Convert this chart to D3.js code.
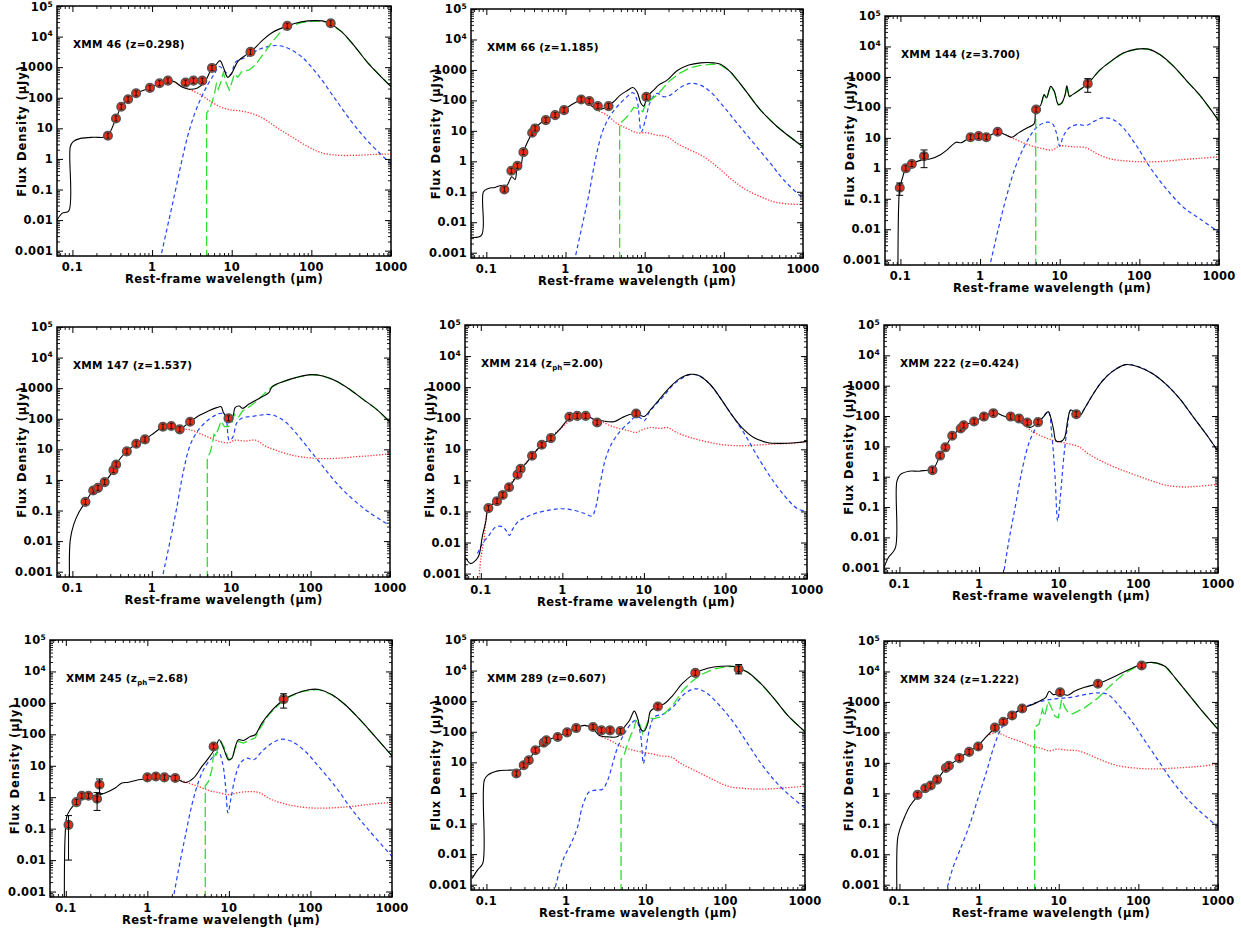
<!DOCTYPE html>
<html>
<head>
<meta charset="utf-8">
<script src="https://cdn.jsdelivr.net/npm/d3@7"></script>
<style>
  body { margin: 0; background: #fff; }
  svg { display: block; font-family: "DejaVu Sans", sans-serif; font-weight: bold; }
</style>
</head>
<body>
<svg id="chart" width="1241" height="932"></svg>
<script>
// Axis ticks
const xTickValues = [0.1, 1, 10, 100, 1000];
const xTickLabels = ['0.1', '1', '10', '100', '1000'];
const yTickValues = [1e-3, 1e-2, 0.1, 1, 10, 100, 1000, 1e4, 1e5];
const yTickLabels = ['0.001', '0.01', '0.1', '1', '10', '100', '1000', '10^4', '10^5'];
const xDomain = [0.064, 1000];
const yDomain = [6.7e-4, 1e5];

// Source names and redshifts
const sourceNames = ['46', '66', '144', '147', '214', '222', '245', '289', '324'];
const redshifts = ['0.298', '1.185', '3.700', '1.537', '2.00', '0.424', '2.68', '0.607', '1.222'];
const photoZ = [false, false, false, false, true, false, true, false, false];

// ---- XMM 46 ----
const obs46 = [[0.279,5.75],[0.352,21],[0.41,51],[0.50,89],[0.63,140],[0.94,210],[1.24,297],[1.58,363],[2.63,313],[3.31,363],[4.27,363],[5.65,944],[17.2,3160],[49.8,22400],[175,27300]];
const tot46 = [[0.064,0.01],[0.074,0.0166],[0.09,0.02],[0.094,2.5],[0.102,3.7],[0.126,4.7],[0.186,5.1],[0.248,5.1],[0.279,5.75],[0.352,21],[0.41,51],[0.50,89],[0.63,140],[0.94,210],[1.24,297],[1.58,363],[1.89,338],[2.41,219],[2.92,190],[3.72,209],[4.61,338],[5.65,930],[6.3,1180],[7.13,1640],[7.94,920],[8.9,467],[10,630],[11.9,1520],[14.5,2330],[17.5,3230],[23.4,6860],[31.3,12900],[49.8,22400],[74.8,30200],[110,33300],[155,30200],[239,14600],[352,4710],[518,1340],[1000,231]];
const star46 = [[1.24,297],[1.58,363],[1.89,330],[2.30,245],[3.07,180],[4.10,124],[5.48,74.8],[7.34,49],[9.8,40],[13.1,37],[19.3,28.8],[25.8,20],[38,10],[56,5.4],[91,2.5],[134,1.6],[217,1.32],[387,1.32],[631,1.41],[1000,1.45]];
const agn46 = [[1.26,5e-4],[1.56,0.0061],[1.89,0.058],[2.30,0.63],[2.79,5.4],[3.38,27.5],[4.10,95],[4.98,263],[6.05,603],[7.0,1050],[8.24,716],[9.6,557],[11.3,1520],[15.1,2100],[21.3,3660],[28.4,4710],[38,5080],[50.8,4170],[74.8,2220],[121,557],[197,95],[319,16.6],[518,3.67],[1000,0.68]];
const sb46 = [[4.84,5e-4],[4.84,31],[5.38,49],[6.05,124],[6.41,282],[6.79,190],[7.34,338],[7.85,661],[8.57,295],[9.33,180],[10.1,338],[10.8,603],[11.9,468],[13.4,716],[16.7,813],[20.3,1280],[24.5,2510],[31.3,6050],[39.8,12900],[50.8,20200],[74.8,28700],[110,32600],[155,30000],[239,14600],[352,4710],[518,1340],[1000,231]];

// ---- XMM 66 ----
const obs66 = [[0.169,0.119],[0.207,0.49],[0.247,0.71],[0.294,2.0],[0.379,8.65],[0.413,12],[0.564,22.5],[0.74,32.8],[0.96,47.9],[1.58,107],[2.0,94.6],[2.56,64.9],[3.5,64.9],[10.5,131]];
const tot66 = [[0.064,0.0032],[0.087,0.0038],[0.092,0.1],[0.106,0.129],[0.129,0.139],[0.149,0.158],[0.181,0.16],[0.209,0.31],[0.231,0.254],[0.247,0.7],[0.267,0.54],[0.294,2.0],[0.357,6.4],[0.413,12],[0.528,21.4],[0.74,34],[0.96,50],[1.39,90],[1.69,107],[2.15,65],[2.62,50],[3.33,61.7],[4.05,90],[4.92,149],[5.97,207],[7.11,266],[8.0,191],[9.0,79],[9.7,65],[10.9,138],[13.0,217],[15.0,316],[19.2,462],[25.6,937],[36,1440],[50.7,1710],[74.6,1710],[90.8,1550],[121,869],[179,247],[291,47.9],[473,13.6],[1000,3.0]];
const star66 = [[2.15,65],[2.5,48],[3.33,32.8],[4.47,17.5],[5.97,12],[8.0,8.65],[10.7,8.65],[14.3,7.2],[19.2,6.4],[25.6,3.85],[37.8,2.34],[55.8,1.41],[82.4,0.66],[121,0.275],[179,0.129],[291,0.069],[473,0.044],[1000,0.038]];
const agn66 = [[1.29,5e-4],[1.61,0.0071],[1.95,0.069],[2.38,1.1],[2.88,8.2],[3.5,25.5],[4.47,61.7],[5.97,131],[7.11,178],[8.0,102],[9.08,9.3],[10.2,22.5],[11.8,90],[14.3,170],[17.4,132],[21.1,149],[28.3,266],[37.8,360],[50.7,316],[67.8,191],[100,61.7],[148,17.5],[240,3.85],[389,0.85],[574,0.24],[1000,0.06]];
const sb66 = [[4.83,5e-4],[4.83,16.6],[5.42,22.5],[6.27,32.8],[7.26,58.6],[8.4,54.3],[9.5,42.3],[10.2,76],[11.8,102],[14.3,149],[17.4,266],[21.1,462],[28.3,805],[37.8,1175],[50.7,1400],[74.6,1550],[90.8,1450],[121,869],[179,247],[291,47.9],[473,13.6],[1000,3.0]];

// ---- XMM 144 ----
const obs144 = [[0.098,0.23],[0.117,1.0],[0.139,1.38],[0.198,2.5],[0.76,10.5],[0.96,11.4],[1.2,10.5],[1.66,15.8],[5.05,85],[22.5,601]];
const err144 = [[0.098,0.13,0.33],[0.198,1.05,4.0],[22.5,313,875]];
const tot144 = [[0.093,5e-4],[0.095,0.059],[0.098,0.23],[0.105,0.44],[0.117,1.0],[0.139,1.38],[0.181,1.86],[0.24,2.06],[0.322,2.86],[0.392,4.17],[0.5,7.2],[0.58,6.9],[0.76,10.5],[0.96,11.4],[1.2,10.7],[1.66,15.8],[2.06,12.9],[2.51,10.5],[3.04,14.6],[3.92,21.4],[4.76,28.8],[4.95,74.6],[5.05,85],[5.73,115],[6.38,263],[6.84,204],[7.69,491],[8.55,339],[9.6,124],[10.6,140],[11.7,263],[12.3,516],[13.2,231],[14.5,263],[22.5,601],[31.6,1640],[46.7,3660],[62.7,6050],[92.5,8180],[130,8180],[183,5330],[270,2220],[398,716],[590,231],[1000,35.5]];
const star144 = [[2.06,12.9],[2.51,10],[3.35,7.2],[4.5,5.4],[6.0,4.5],[8.07,4.0],[10,5.4],[14.5,5.1],[21.4,4.7],[28.7,3.1],[42.4,2.06],[69,1.74],[112,1.64],[183,1.67],[362,1.95],[590,2.14],[1000,2.4]];
const agn144 = [[1.30,5e-4],[1.69,0.01],[2.16,0.126],[2.76,1.05],[3.52,4.7],[4.5,14.6],[5.46,25.4],[6.97,32.7],[8.07,29.5],[9.08,14.6],[10,5.4],[11.1,11.4],[13.2,21.4],[16.8,27.5],[21.4,25.4],[27.3,35.5],[34.8,45.2],[46.7,39.8],[62.7,21.4],[92.5,5.4],[137,1.05],[222,0.2],[362,0.051],[590,0.021],[1000,0.008]];
const sb144 = [[5.0,5e-4],[5.0,70],[5.05,85],[5.73,110],[6.38,255],[6.84,198],[7.69,480],[8.55,330],[9.6,120],[10.6,135],[11.7,255],[12.3,505],[13.2,225],[14.5,258],[22.5,590],[31.6,1640],[46.7,3660],[62.7,6050],[92.5,8180],[130,8180],[183,5330],[270,2220],[398,716],[590,231],[1000,35.5]];

// ---- XMM 147 ----
const obs147 = [[0.146,0.192],[0.183,0.45],[0.21,0.55],[0.255,0.85],[0.329,2.09],[0.356,3.2],[0.485,8.55],[0.638,15.2],[0.82,21.1],[1.38,55],[1.76,57.8],[2.25,45],[3.04,80],[9.25,103]];
const tot147 = [[0.092,5e-4],[0.094,0.011],[0.104,0.035],[0.12,0.084],[0.146,0.19],[0.183,0.45],[0.21,0.55],[0.255,0.85],[0.329,2.09],[0.356,3.2],[0.407,5.3],[0.485,8.55],[0.638,15.2],[0.82,21.1],[1.08,35],[1.38,55],[1.76,60],[2.25,47],[2.87,71],[3.85,123],[5.15,179],[6.58,231],[7.46,248],[8.0,158],[9.25,103],[10.5,123],[11.2,231],[12.6,261],[13.9,219],[16.6,296],[22.2,454],[29.8,714],[32.9,1120],[44,1600],[65,2210],[101,2770],[142,2510],[210,1720],[310,918],[458,432],[678,203],[1000,78]];
const star147 = [[2.25,47],[3.16,42.7],[4.24,30.9],[5.68,22.4],[7.6,17.4],[9.25,16.4],[11.2,20],[15.1,18.6],[20.2,20],[27,12.8],[36.2,9.46],[53.6,6.8],[79,5.6],[129,5.0],[210,5.05],[377,5.75],[614,6.3],[1000,7.2]];
const agn147 = [[1.33,5e-4],[1.68,0.0087],[2.04,0.107],[2.48,1.71],[3.01,12.8],[3.66,35],[4.67,74],[6.27,129],[7.6,150],[8.55,108],[9.44,20],[10.4,24],[11.8,74],[13.9,108],[17.5,117],[22.2,129],[28.4,139],[36.2,123],[48.5,78],[65,35],[96,10],[142,2.83],[210,0.81],[342,0.23],[557,0.084],[1000,0.032]];
const sb147 = [[5.0,5e-4],[5.0,5.3],[5.41,7.76],[5.79,14.5],[6.08,30.9],[6.38,27.2],[7.46,84],[8.22,55],[9.25,55],[10.2,74],[11.0,139],[12.2,108],[13.9,179],[17.5,261],[22.2,432],[28.4,813],[32.9,1120],[44,1600],[65,2210],[101,2770],[142,2510],[210,1720],[310,918],[458,432],[678,203],[1000,78]];

// ---- XMM 214 ----
const obs214 = [[0.124,0.128],[0.158,0.214],[0.186,0.34],[0.222,0.6],[0.282,1.53],[0.308,2.34],[0.425,6.2],[0.56,14.0],[0.724,22.9],[1.22,111],[1.52,119],[1.93,119],[2.67,73],[8.03,142]];
const tot214 = [[0.064,0.0035],[0.075,0.0021],[0.087,0.0027],[0.095,0.0039],[0.105,0.017],[0.115,0.046],[0.124,0.128],[0.158,0.214],[0.186,0.34],[0.222,0.6],[0.282,1.53],[0.308,2.34],[0.361,3.6],[0.425,6.2],[0.56,14],[0.724,22.9],[0.935,44.7],[1.22,100],[1.52,119],[1.93,125],[2.42,93],[3.07,83],[4.29,77],[5.44,105],[6.9,135],[8.75,126],[10.1,114],[12.2,195],[15.5,407],[20.6,966],[27.4,1880],[36.5,2580],[46.2,2400],[64.6,1240],[85.9,462],[114,153],[159,50],[222,24],[325,16.6],[476,15.5],[766,16.6],[1000,18]];
const star214 = [[0.094,5e-4],[0.1,0.003],[0.11,0.0133],[0.124,0.128],[0.186,0.34],[0.308,2.3],[0.56,14],[0.935,44.7],[1.52,119],[1.93,125],[2.42,93],[2.9,83],[3.72,60],[4.94,46.8],[6.58,39.8],[7.96,34.9],[9.6,42.7],[12.2,50.5],[15.5,46.8],[19.6,50],[25,35],[36.5,24.2],[58.7,17.5],[94,14],[152,13],[244,13.7],[394,14.8],[631,15.6],[1000,17.5]];
const agn214 = [[0.091,0.0044],[0.105,0.0092],[0.126,0.017],[0.153,0.032],[0.186,0.032],[0.204,0.0245],[0.224,0.017],[0.247,0.0276],[0.285,0.046],[0.361,0.066],[0.5,0.091],[0.738,0.113],[1.0,0.122],[1.44,0.107],[1.91,0.084],[2.31,0.071],[2.54,0.122],[2.93,0.87],[3.38,4.9],[4.09,16.6],[5.19,39.8],[6.58,73],[7.96,114],[9.18,100],[10.1,83],[11.6,153],[14.1,282],[17.9,550],[22.6,1150],[30.1,2020],[38.4,2580],[48.5,2290],[64.6,1240],[85.9,462],[114,153],[167,34.9],[244,6.2],[358,1.26],[524,0.33],[766,0.122],[1000,0.1]];

// ---- XMM 222 ----
const obs222 = [[0.26,1.64],[0.324,4.97],[0.378,9.3],[0.46,22.4],[0.588,38.9],[0.641,49],[0.867,66],[1.15,96],[1.51,124],[2.49,96],[3.18,83],[4.03,61],[5.5,63],[16.6,115]];
const tot222 = [[0.064,0.001],[0.073,0.0022],[0.089,0.0045],[0.093,0.72],[0.103,1.19],[0.132,1.52],[0.176,1.52],[0.225,1.64],[0.26,1.64],[0.324,4.97],[0.378,9.3],[0.46,22.4],[0.588,38.9],[0.641,49],[0.867,66],[1.15,96],[1.51,135],[2.03,100],[2.59,79],[3.48,58],[4.36,42],[5.38,61],[6.56,100],[7.38,140],[7.98,85],[8.63,35],[9.25,15.3],[10.7,14.6],[11.8,18.8],[13.0,75],[14.1,158],[15.5,140],[18.3,100],[21.2,180],[25.8,433],[34.6,1340],[46.5,2850],[68.7,4950],[101,4150],[150,2510],[222,1120],[328,382],[485,96],[718,24.2],[1000,6.9]];
const star222 = [[3.48,58],[4.44,33.5],[5.96,22.4],[7.98,16.6],[9.7,14.6],[13.0,12.3],[17.5,10],[23.4,5.75],[34.6,3.24],[56.5,1.82],[92,1.13],[150,0.72],[222,0.53],[361,0.457],[590,0.49],[1000,0.56]];
const agn222 = [[2.0,5e-4],[2.35,0.0069],[2.86,0.11],[3.48,1.74],[4.23,12.9],[5.14,39.8],[6.25,85],[7.38,140],[8.22,21.4],[8.98,1.05],[9.7,0.035],[10.5,0.23],[11.6,4.72],[12.8,39.8],[14.1,158],[15.5,140],[17.5,96],[21.2,180],[25.8,433],[34.6,1340],[46.5,2850],[68.7,4950],[101,4150],[150,2510],[222,1120],[328,382],[485,96],[718,24.2],[1000,6.9]];

// ---- XMM 245 ----
const obs245 = [[0.108,0.132],[0.135,0.70],[0.157,1.11],[0.19,1.11],[0.242,0.89],[0.259,2.5],[1.0,4.26],[1.27,4.57],[1.62,4.26],[2.2,4.07],[6.49,41],[46.9,1320]];
const err245 = [[0.108,0.01,0.26],[0.242,0.38,1.4],[0.259,1.3,3.8],[46.9,682,1950]];
const tot245 = [[0.096,5e-4],[0.098,0.056],[0.103,0.245],[0.113,0.4],[0.135,0.7],[0.157,1.06],[0.19,1.11],[0.242,1.13],[0.304,1.35],[0.403,1.95],[0.486,2.82],[0.588,3.0],[0.78,3.58],[1.0,3.94],[1.27,4.35],[1.82,4.78],[2.2,4.07],[2.91,2.95],[3.68,4.07],[4.67,9.55],[5.62,17.5],[6.79,36.3],[7.6,67],[8.6,36.3],[9.9,15.5],[10.9,17.5],[12.0,41],[13.1,67],[15.1,63.8],[18.3,85.5],[21,96.6],[25.4,227],[33.7,575],[46.9,1260],[65.2,1950],[95,2610],[126,2680],[184,1810],[267,871],[389,327],[569,110],[1000,20.7]];
const star245 = [[2.2,4.07],[3.2,2.82],[4.25,2.19],[5.62,1.64],[7.46,1.41],[9.9,1.2],[12.0,1.35],[17.4,1.51],[23.1,1.41],[33.7,0.83],[54,0.575],[86.4,0.47],[138,0.45],[222,0.47],[389,0.54],[625,0.62],[1000,0.68]];
const agn245 = [[2.05,5e-4],[2.41,0.0049],[2.91,0.056],[3.52,0.575],[4.25,3.16],[5.13,9.55],[6.18,17.5],[7.46,26.5],[8.36,12.1],[9.18,1.72],[9.72,0.316],[10.7,1.05],[12.0,4.57],[13.8,12.1],[16.6,17.5],[20.1,15.5],[25.4,28.5],[33.7,52.5],[44.7,70],[59.3,59],[86.4,28.5],[126,9.55],[202,2.19],[323,0.4],[517,0.091],[1000,0.013]];
const sb245 = [[5.13,5e-4],[5.13,2.3],[5.62,3.16],[6.18,7.4],[6.49,22.4],[6.79,17.5],[7.46,41],[8.05,59],[8.85,36.3],[9.9,15.5],[10.9,17.5],[12.0,36.3],[13.1,59],[15.1,52.5],[18.3,67],[21,76],[24.2,158],[30.7,417],[40.6,871],[54,1520],[78.7,2310],[126,2680],[184,1810],[267,871],[389,327],[569,110],[1000,20.7]];

// ---- XMM 289 ----
const obs289 = [[0.238,4.3],[0.294,8.05],[0.34,11.7],[0.412,24.8],[0.525,44],[0.566,52.5],[0.785,67.6],[1.03,95.5],[1.34,132],[2.18,143],[2.78,111],[3.56,111],[4.81,106],[14.2,671],[42,8400],[147,11300]];
const err289 = [[147,7800,15700]];
const tot289 = [[0.066,0.0016],[0.078,0.0031],[0.09,0.005],[0.094,2.6],[0.104,3.8],[0.139,5.25],[0.185,5.5],[0.224,5.5],[0.238,4.6],[0.294,8.05],[0.34,11.7],[0.412,24.8],[0.525,44],[0.566,52.5],[0.785,70],[1.03,99],[1.34,135],[1.7,162],[2.15,130],[2.62,76],[3.5,67.6],[4.45,70],[5.4,143],[6.24,234],[7.2,473],[7.94,267],[8.73,117],[9.6,106],[10.6,183],[11.5,473],[13.5,640],[17.1,820],[21.8,1530],[29.1,3860],[42,8250],[60,11900],[88.3,13800],[130,13600],[191,8830],[281,3680],[412,1190],[606,342],[1000,100]];
const star289 = [[2.62,76],[3.67,50],[4.9,33.4],[6.55,26],[8.73,21.9],[11.7,19.3],[15.6,16.2],[20.8,15],[27.8,9.1],[40.8,5.5],[66,2.95],[107,1.66],[173,1.4],[281,1.33],[454,1.4],[1000,1.66]];
const agn289 = [[0.70,5e-4],[0.824,0.0027],[0.953,0.0083],[1.16,0.0226],[1.4,0.079],[1.62,0.4],[1.96,1.09],[2.38,1.23],[2.88,1.33],[3.33,2.6],[3.85,9.1],[4.45,31.6],[5.4,86.5],[6.55,183],[7.56,234],[8.57,86.5],[9.35,9.1],[10.0,24.8],[11.1,111],[12.8,302],[17.1,389],[22.9,724],[29.1,1530],[37,2340],[45,2510],[60,1740],[88.3,640],[130,183],[191,40.7],[281,9.1],[412,2.6],[606,0.95],[1000,0.316]];
const sb289 = [[4.9,5e-4],[4.9,12.3],[5.4,18.4],[5.94,40.7],[6.55,82],[7.06,117],[7.56,234],[8.41,183],[9.16,86.5],[10,143],[11.1,282],[12.8,267],[14.9,302],[18,440],[22.9,863],[29.1,2230],[37,4170],[49.5,7410],[72.8,11300],[107,13600],[130,13600],[191,8830],[281,3680],[412,1190],[606,342],[1000,100]];

// ---- XMM 324 ----
const obs324 = [[0.169,0.89],[0.211,1.47],[0.247,1.8],[0.297,2.82],[0.383,6.76],[0.418,8.05],[0.565,14.3],[0.75,23],[0.975,34.3],[1.58,143],[2.02,224],[2.6,360],[3.48,608],[10.4,2070],[31.1,3960],[110,15700]];
const tot324 = [[0.093,5e-4],[0.095,0.033],[0.102,0.069],[0.116,0.166],[0.134,0.37],[0.169,0.8],[0.211,1.34],[0.247,1.74],[0.297,2.82],[0.383,6.76],[0.418,8.05],[0.565,14.3],[0.75,24],[0.975,37],[1.25,76],[1.58,137],[2.02,224],[2.6,370],[3.48,608],[4.9,863],[5.94,1110],[6.88,1420],[7.59,2230],[8.61,1740],[10.4,1930],[12.9,1650],[15.7,2230],[21.1,3020],[31.1,3960],[45.9,6070],[67.8,10000],[100,15700],[134,19600],[171,18800],[218,14500],[291,6070],[430,1740],[634,498],[1000,126]];
const star324 = [[1.25,76],[1.6,98],[1.94,86.5],[2.48,64.6],[3.32,50],[4.44,36],[5.94,30.2],[7.59,25],[9.68,28.2],[12.9,26],[17.3,25],[23.2,19.3],[34.3,12.3],[55.7,8.05],[100,6.6],[163,6.3],[291,6.76],[522,7.46],[1000,9.1]];
const agn324 = [[0.38,5e-4],[0.474,0.0039],[0.575,0.0137],[0.77,0.101],[0.98,0.75],[1.25,5.5],[1.52,31.6],[1.85,117],[2.25,267],[3.01,498],[4.44,820],[6.56,1110],[9.68,1290],[14.3,1420],[21.1,1740],[31.1,1970],[41.7,1740],[55.7,820],[82.2,234],[121,52.5],[179,11.7],[264,2.6],[390,0.75],[575,0.275],[1000,0.079]];
const sb324 = [[4.99,5e-4],[4.99,150],[5.66,183],[6.24,562],[6.68,342],[7.36,1055],[7.96,724],[8.95,342],[9.86,302],[10.9,1190],[12,640],[13.2,440],[15,407],[21.1,640],[31.1,1355],[45.9,3680],[67.8,8830],[100,15500],[134,19600],[171,18800],[218,14500],[291,6070],[430,1740],[634,498],[1000,126]];

const obsList = [obs46, obs66, obs144, obs147, obs214, obs222, obs245, obs289, obs324];
const errList = [[], [], err144, [], [], [], err245, err289, []];
const totList = [tot46, tot66, tot144, tot147, tot214, tot222, tot245, tot289, tot324];
const starList = [star46, star66, star144, star147, star214, star222, star245, star289, star324];
const agnList = [agn46, agn66, agn144, agn147, agn214, agn222, agn245, agn289, agn324];
const sbList = [sb46, sb66, sb144, sb147, null, null, sb245, sb289, sb324];

// Panel frames [left, top, right, bottom] in page pixels
const frames = [
    [57, 6, 391, 256], [471, 9, 803, 258], [885, 16, 1219, 265],
    [57, 327, 390, 577], [465, 325, 807, 579], [884, 325, 1218, 573],
    [50, 640, 392, 897], [471, 640, 805, 890], [884, 641, 1218, 890]
];

const svg = d3.select('#chart');

function isDecade(v) {
    const l = Math.log10(v);
    return Math.abs(l - Math.round(l)) < 1e-6;
}

sourceNames.forEach((name, i) => {
    const [left, top, right, bottom] = frames[i];
    const x = d3.scaleLog().domain(xDomain).range([left, right]);
    const y = d3.scaleLog().domain(yDomain).range([bottom, top]);
    const g = svg.append('g');

    g.append('clipPath').attr('id', 'clip' + i)
        .append('rect')
        .attr('x', left).attr('y', top)
        .attr('width', right - left).attr('height', bottom - top);

    const smooth = d3.line()
        .x(d => x(d[0]))
        .y(d => y(d[1]))
        .curve(d3.curveCatmullRom.alpha(0.5));
    const straight = d3.line()
        .x(d => x(d[0]))
        .y(d => y(d[1]));

    const plot = g.append('g').attr('clip-path', `url(#clip${i})`);

    // stellar component (red dotted)
    plot.append('path')
        .datum(starList[i])
        .attr('fill', 'none')
        .attr('stroke', '#ff3a3a')
        .attr('stroke-width', 1.3)
        .attr('stroke-dasharray', '1.3,1.6')
        .attr('d', smooth);

    // AGN torus (blue dashed)
    plot.append('path')
        .datum(agnList[i])
        .attr('fill', 'none')
        .attr('stroke', '#2244ff')
        .attr('stroke-width', 1.2)
        .attr('stroke-dasharray', '4,3')
        .attr('d', smooth);

    // starburst (green long dashed)
    if (sbList[i]) {
        plot.append('path')
            .datum(sbList[i])
            .attr('fill', 'none')
            .attr('stroke', '#2ee02e')
            .attr('stroke-width', 1.3)
            .attr('stroke-dasharray', '10,4')
            .attr('d', straight);
    }

    // total fit (black)
    plot.append('path')
        .datum(totList[i])
        .attr('fill', 'none')
        .attr('stroke', '#000')
        .attr('stroke-width', 1.1)
        .attr('d', smooth);

    // photometry
    const pts = plot.append('g');
    obsList[i].forEach(d => {
        const cx = x(d[0]), cy = y(d[1]);
        pts.append('circle')
            .attr('cx', cx).attr('cy', cy).attr('r', 4.3)
            .attr('fill', '#ee2a10')
            .attr('stroke', '#555')
            .attr('stroke-width', 1.5);
        pts.append('path')
            .attr('d', `M${cx},${cy - 2.5}V${cy + 2.5}M${cx - 1.5},${cy - 2.5}H${cx + 1.5}M${cx - 1.5},${cy + 2.5}H${cx + 1.5}`)
            .attr('stroke', '#111')
            .attr('stroke-width', 0.9);
    });

    // visible error bars
    errList[i].forEach(e => {
        const cx = x(e[0]);
        const ylo = y(e[1]), yhi = y(e[2]);
        pts.append('path')
            .attr('d', `M${cx},${ylo}V${yhi}M${cx - 3.5},${ylo}H${cx + 3.5}M${cx - 3.5},${yhi}H${cx + 3.5}`)
            .attr('fill', 'none')
            .attr('stroke', '#000')
            .attr('stroke-width', 1);
    });

    // axes with inward ticks on all four sides
    const xMinor = x.ticks().filter(v => !isDecade(v) && v >= xDomain[0] && v <= xDomain[1]);
    const yMinor = y.ticks().filter(v => !isDecade(v) && v >= yDomain[0] && v <= yDomain[1]);

    const axes = [
        [d3.axisBottom(x), xTickValues, xMinor, `translate(0,${bottom})`],
        [d3.axisTop(x), xTickValues, xMinor, `translate(0,${top})`],
        [d3.axisLeft(y), yTickValues, yMinor, `translate(${left},0)`],
        [d3.axisRight(y), yTickValues, yMinor, `translate(${right},0)`]
    ];
    axes.forEach(([axis, major, minor, tr]) => {
        g.append('g').attr('transform', tr)
            .call(axis.tickValues(major).tickSizeInner(-6).tickSizeOuter(0).tickFormat(''))
            .call(s => s.select('.domain').remove())
            .call(s => s.selectAll('line').attr('stroke', '#000').attr('stroke-width', 1));
        g.append('g').attr('transform', tr)
            .call(axis.tickValues(minor).tickSizeInner(-3).tickSizeOuter(0).tickFormat(''))
            .call(s => s.select('.domain').remove())
            .call(s => s.selectAll('line').attr('stroke', '#000').attr('stroke-width', 0.9));
    });

    g.append('rect')
        .attr('x', left).attr('y', top)
        .attr('width', right - left).attr('height', bottom - top)
        .attr('fill', 'none')
        .attr('stroke', '#000')
        .attr('stroke-width', 1.5);

    // tick labels
    xTickValues.forEach((v, k) => {
        g.append('text')
            .attr('x', x(v)).attr('y', bottom + 15)
            .attr('text-anchor', 'middle')
            .attr('font-size', 11.5)
            .attr('letter-spacing', 0.3)
            .text(xTickLabels[k]);
    });
    yTickValues.forEach((v, k) => {
        const t = g.append('text')
            .attr('x', left - 4).attr('y', Math.max(y(v) + 4, 11))
            .attr('text-anchor', 'end')
            .attr('font-size', 11.5)
            .attr('letter-spacing', 0.3);
        const lab = yTickLabels[k];
        if (lab.includes('^')) {
            const [base, ex] = lab.split('^');
            t.append('tspan').text(base);
            t.append('tspan').attr('dy', -4.5).attr('font-size', 7.5).text(ex);
        } else {
            t.text(lab);
        }
    });

    // axis titles
    g.append('text')
        .attr('x', (left + right) / 2).attr('y', bottom + 27)
        .attr('text-anchor', 'middle')
        .attr('font-size', 11.5)
        .attr('letter-spacing', 0.45)
        .text('Rest-frame wavelength (\u03bcm)');
    g.append('text')
        .attr('transform', `translate(${left - 31},${(top + bottom) / 2}) rotate(-90)`)
        .attr('text-anchor', 'middle')
        .attr('font-size', 11.5)
        .attr('letter-spacing', 0.9)
        .text('Flux Density (\u03bcJy)');

    // panel title
    const title = g.append('text')
        .attr('x', left + 16).attr('y', top + 42)
        .attr('font-size', 10.5)
        .attr('letter-spacing', 0.2);
    title.append('tspan').text(`XMM ${name} (z`);
    if (photoZ[i]) {
        title.append('tspan').attr('dy', 3).attr('font-size', 7).text('ph');
        title.append('tspan').attr('dy', -3).text(`=${redshifts[i]})`);
    } else {
        title.append('tspan').text(`=${redshifts[i]})`);
    }
});
</script>
</body>
</html>
